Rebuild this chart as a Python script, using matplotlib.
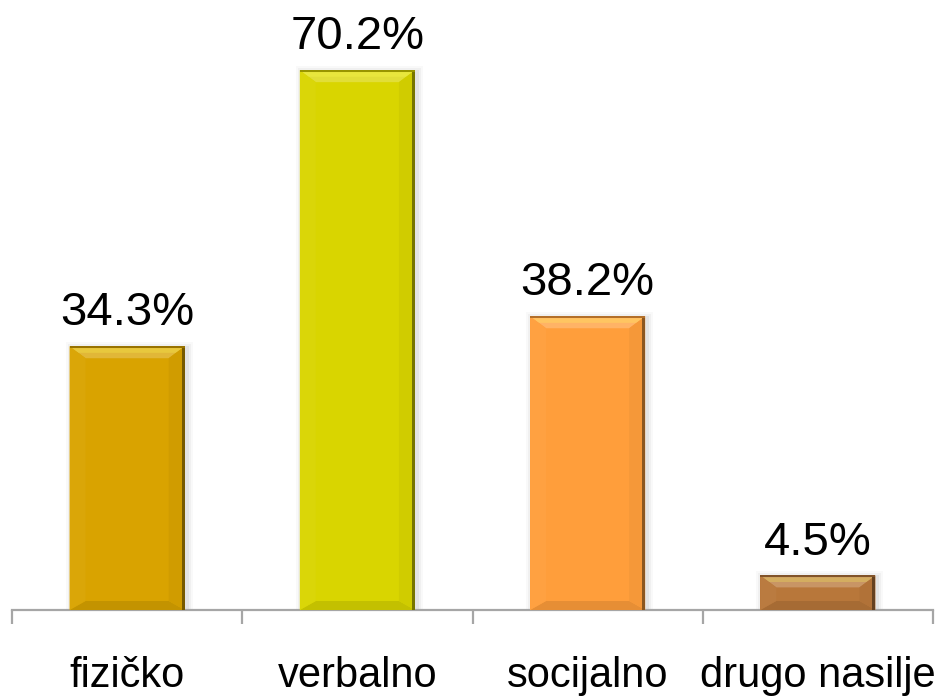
import matplotlib
matplotlib.use("Agg")
import matplotlib.pyplot as plt
from matplotlib.patches import Polygon, Rectangle
from matplotlib.transforms import IdentityTransform
import numpy as np

categories = ["fizičko", "verbalno", "socijalno", "drugo nasilje"]
values = [34.3, 70.2, 38.2, 4.5]
labels = ["34.3%", "70.2%", "38.2%", "4.5%"]
colors = ["#D9A300", "#D9D500", "#FF9E3B", "#B8773A"]

plt.rcParams['font.family'] = ['Liberation Sans', 'DejaVu Sans']

W, H = 943, 696
fig = plt.figure(figsize=(W / 100, H / 100), dpi=100)
ax = fig.add_axes([12 / W, (H - 610) / H, 921 / W, 590 / H])

x = np.arange(len(categories))
bars = ax.bar(x, values, width=0.5, color=colors, zorder=3)

ax.set_xlim(-0.5, len(categories) - 0.5)
ax.set_ylim(0, 590 / 7.69)

for s in ["left", "right", "top"]:
    ax.spines[s].set_visible(False)
ax.spines["bottom"].set_color("#A6A6A6")
ax.spines["bottom"].set_linewidth(1.6)
ax.set_yticks([])
ax.set_xticks(np.arange(-0.5, len(categories), 1.0))
ax.set_xticklabels([])
ax.tick_params(axis="x", which="major", direction="out", length=10, width=1.6, color="#A6A6A6")
ax.set_xticks(x, minor=True)
ax.set_xticklabels(categories, minor=True, fontsize=30)
ax.tick_params(axis="x", which="minor", length=0, pad=33)

for b, lab in zip(bars, labels):
    ax.annotate(lab, (b.get_x() + b.get_width() / 2, b.get_height()),
                xytext=(0, 15), textcoords="offset points",
                ha="center", va="baseline", fontsize=34)


def mix(c, other, t):
    c = np.array(matplotlib.colors.to_rgb(c))
    return tuple(c * (1 - t) + np.array(other) * t)


# bevel look, drawn in pixels on top of each bar
fig.canvas.draw()
ident = IdentityTransform()


def add(p):
    p.set_transform(ident)
    p.set_clip_on(False)
    ax.add_artist(p)


for b, c in zip(bars, colors):
    (x0, y0), (x1, y1) = ax.transData.transform(
        [(b.get_x(), 0), (b.get_x() + b.get_width(), b.get_height())])
    # soft shadow behind the bar
    for k, a in [(6, 0.025), (4, 0.035), (2, 0.05)]:
        add(Rectangle((x0 - k + 2, y0), x1 - x0 + 2 * k, y1 - y0 + k - 2,
                      color="black", alpha=a, lw=0, zorder=2))
    t, bt, sd = 12, 9, 16
    sd = min(sd, (x1 - x0) / 3)
    add(Polygon([(x0, y1), (x1, y1), (x1 - sd, y1 - t), (x0 + sd, y1 - t)],
                color=mix(c, (1, 1, 1), 0.22), lw=0, zorder=4))
    add(Polygon([(x0 + 2, y1 - 2), (x1 - 2, y1 - 2), (x1 - sd * 0.55, y1 - t * 0.55),
                 (x0 + sd * 0.55, y1 - t * 0.55)],
                color=mix(c, (1, 1, 0.6), 0.4), lw=0, zorder=4))
    add(Polygon([(x0, y0), (x1, y0), (x1 - sd, y0 + bt), (x0 + sd, y0 + bt)],
                color=mix(c, (0, 0, 0), 0.1), lw=0, zorder=4))
    add(Polygon([(x1, y0), (x1, y1), (x1 - sd, y1 - t), (x1 - sd, y0 + bt)],
                color=mix(c, (0, 0, 0), 0.04), lw=0, zorder=4))
    add(Polygon([(x0, y0), (x0, y1), (x0 + sd, y1 - t), (x0 + sd, y0 + bt)],
                color=mix(c, (1, 1, 1), 0.03), lw=0, zorder=4))
    add(Rectangle((x1 - 3, y0), 3, y1 - y0,
                  color=mix(c, (0, 0, 0), 0.45), lw=0, zorder=5))
    add(Rectangle((x0, y1 - 1.5), x1 - x0, 1.5,
                  color=mix(c, (0, 0, 0), 0.3), lw=0, zorder=5))

fig.savefig("out.png", dpi=100)
